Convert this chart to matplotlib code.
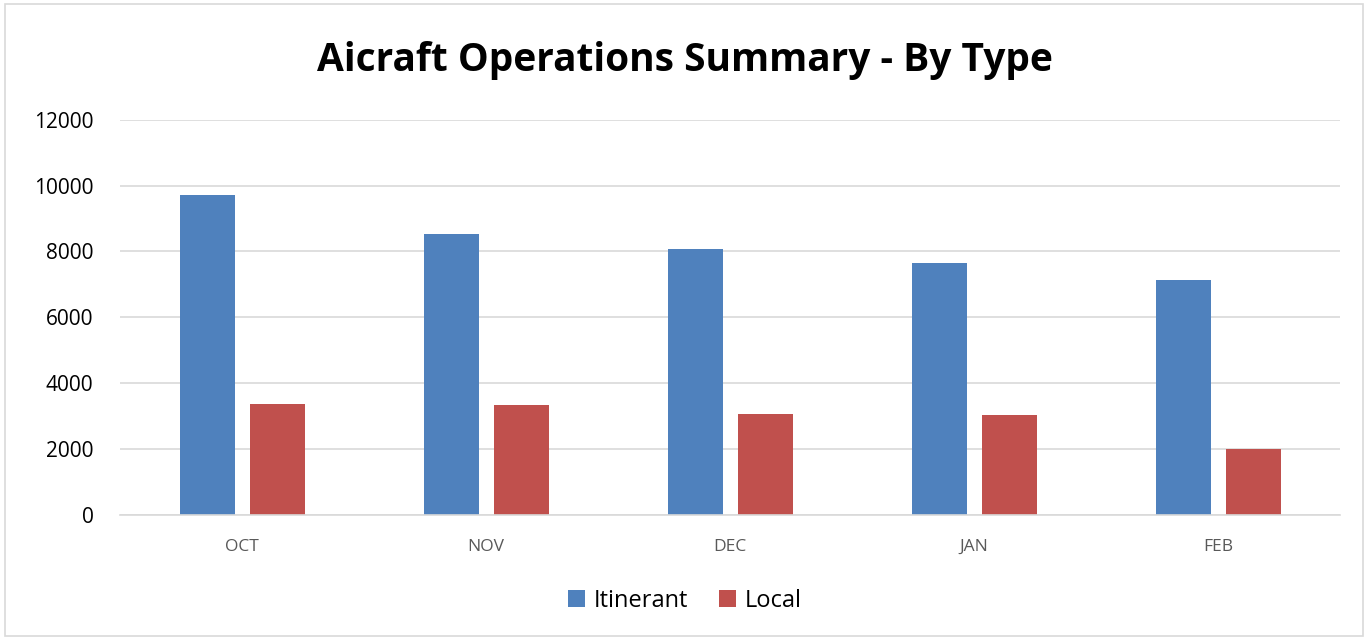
import matplotlib
matplotlib.use("Agg")
import matplotlib.pyplot as plt
from matplotlib.patches import Rectangle
import numpy as np

months = ["OCT", "NOV", "DEC", "JAN", "FEB"]
itinerant = [9700, 8540, 8080, 7650, 7130]
local = [3380, 3350, 3080, 3050, 1990]
yticks = [0, 2000, 4000, 6000, 8000, 10000, 12000]

blue = "#4F81BD"
red = "#C0504D"

plt.rcParams["font.family"] = ["Open Sans", "DejaVu Sans"]

fig = plt.figure(figsize=(13.7, 6.39), dpi=100)
ax = fig.add_axes([120 / 1370, 1 - 515 / 639, 1220 / 1370, (515 - 119.7) / 639])

x = np.arange(len(months))
w = 0.225
ax.bar(x - 0.1414, itinerant, w, color=blue, label="Itinerant")
ax.bar(x + 0.145, local, w, color=red, label="Local")

ax.set_xlim(-0.5, len(months) - 0.5)
ax.set_ylim(0, 12000)
ax.set_yticks(yticks)
ax.set_yticklabels([str(v) for v in yticks], fontsize=15, color="black")
ax.set_xticks(x)
ax.set_xticklabels(months, fontsize=12.5, color="#595959")
ax.tick_params(axis="both", length=0)
ax.tick_params(axis="y", pad=19)
ax.tick_params(axis="x", pad=17)
ax.yaxis.grid(True, color="#D9D9D9", linewidth=1.2)
ax.set_axisbelow(True)
for s in ["top", "right", "left"]:
    ax.spines[s].set_visible(False)
ax.spines["bottom"].set_color("#D9D9D9")
ax.spines["bottom"].set_linewidth(1.2)

fig.text(0.5, 1 - 60 / 639, "Aicraft Operations Summary - By Type",
         ha="center", va="center", fontsize=28, fontweight="bold")

fig.legend(loc="center", bbox_to_anchor=(0.5, 1 - 601 / 639), ncol=2,
           frameon=False, fontsize=17, handlelength=0.7, handleheight=0.7,
           handletextpad=0.4, columnspacing=1.3)

fig.patches.append(Rectangle((5 / 1370, 3 / 639), 1358 / 1370, 632 / 639,
                             transform=fig.transFigure, fill=False,
                             edgecolor="#D9D9D9", linewidth=1.2))

fig.savefig("out.png", dpi=100)
